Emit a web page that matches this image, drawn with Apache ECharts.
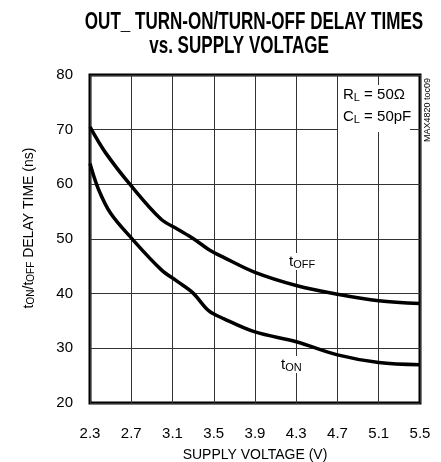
<!DOCTYPE html>
<html><head><meta charset="utf-8">
<script src="https://cdn.jsdelivr.net/npm/echarts@6/dist/echarts.min.js"></script>
<style>html,body{margin:0;padding:0;background:#fff}#c{width:441px;height:462px}</style>
</head><body><div id="c"></div>
<script>
const voltageOff = [2.3, 2.45, 2.7, 2.99, 3.15, 3.3, 3.45, 3.6, 3.9, 4.3, 4.7, 5.1, 5.5];
const tOff       = [70.5, 65.8, 59.7, 53.6, 51.8, 50.1, 48.1, 46.6, 43.9, 41.5, 39.9, 38.7, 38.2];
const voltageOn  = [2.3, 2.38, 2.5, 2.7, 2.99, 3.15, 3.3, 3.45, 3.6, 3.9, 4.3, 4.7, 5.1, 5.5];
const tOn        = [63.8, 59.2, 54.7, 50.2, 44.4, 42.2, 40.1, 36.9, 35.4, 33.0, 31.2, 28.8, 27.4, 27.0];
const xTicks = [2.3, 2.7, 3.1, 3.5, 3.9, 4.3, 4.7, 5.1, 5.5];
const yTicks = [20, 30, 40, 50, 60, 70, 80];

const F = '"Liberation Sans", Arial, sans-serif';
const chart = echarts.init(document.getElementById('c'));
const pair = (xs, ys) => xs.map((x, i) => [x, ys[i]]);
const sub = {n: {fontFamily: F, fontSize: 15, color: '#000'}, s: {fontFamily: F, fontSize: 11, color: '#000', padding: [6, 0, 0, 0]}};
chart.setOption({
  animation: false,
  grid: {left: 90, right: 21, top: 75, bottom: 59, containLabel: false, outerBoundsMode: 'none',
    show: true, borderColor: '#000', borderWidth: 3, backgroundColor: 'transparent'},
  xAxis: {
    type: 'value', min: xTicks[0], max: xTicks[xTicks.length - 1],
    axisLine: {show: false}, axisTick: {show: false, customValues: xTicks},
    axisLabel: {customValues: xTicks, color: '#000', fontFamily: F, fontSize: 15, margin: 23,
      formatter: v => v.toFixed(1)},
    splitLine: {show: true, lineStyle: {color: '#333', width: 1}},
    name: 'SUPPLY VOLTAGE (V)', nameLocation: 'middle', nameGap: 45, nameMoveOverlap: false,
    nameTextStyle: {color: '#000', fontFamily: F, fontSize: 14}
  },
  yAxis: {
    type: 'value', min: yTicks[0], max: yTicks[yTicks.length - 1], interval: 10,
    axisLine: {show: false}, axisTick: {show: false},
    axisLabel: {color: '#000', fontFamily: F, fontSize: 15, margin: 17},
    splitLine: {show: true, lineStyle: {color: '#333', width: 1}}
  },
  series: [
    {type: 'line', data: pair(voltageOff, tOff), smooth: 0.35, showSymbol: false, lineStyle: {color: '#000', width: 3.5}, z: 5},
    {type: 'line', data: pair(voltageOn, tOn), smooth: 0.35, showSymbol: false, lineStyle: {color: '#000', width: 3.5}, z: 5}
  ],
  graphic: [
    {type: 'text', x: 254, y: 10, scaleX: 0.71, style: {text: 'OUT_ TURN-ON/TURN-OFF DELAY TIMES', align: 'center', verticalAlign: 'top', fontFamily: F, fontWeight: 'bold', fontSize: 24, fill: '#000'}},
    {type: 'text', x: 239, y: 34, scaleX: 0.71, style: {text: 'vs. SUPPLY VOLTAGE', align: 'center', verticalAlign: 'top', fontFamily: F, fontWeight: 'bold', fontSize: 24, fill: '#000'}},
    {type: 'text', x: 29, y: 228, rotation: Math.PI / 2, style: {text: '{n|t}{s|ON}{n|/t}{s|OFF}{n| DELAY TIME (ns)}', align: 'center', verticalAlign: 'middle',
      rich: {n: {fontFamily: F, fontSize: 14, fill: '#000'}, s: {fontFamily: F, fontSize: 10, fill: '#000', padding: [5, 0, 0, 0]}}}},
    {type: 'rect', shape: {x: 338, y: 85, width: 72, height: 47}, style: {fill: '#fff'}, z: 1},
    {type: 'text', x: 343, y: 84, z: 2, style: {text: '{n|R}{s|L}{n| = 50Ω}\n{n|C}{s|L}{n| = 50pF}', lineHeight: 22,
      rich: {n: {fontFamily: F, fontSize: 15, lineHeight: 22}, s: {fontFamily: F, fontSize: 11, padding: [6, 0, 0, 0], lineHeight: 22}}}},
    {type: 'text', x: 428, y: 78, rotation: Math.PI / 2, style: {text: 'MAX4820 toc09', fontFamily: F, fontSize: 9, fill: '#000', align: 'right', verticalAlign: 'middle'}},
    {type: 'text', x: 289, y: 253, z: 2, style: {text: '{n|t}{s|OFF}', backgroundColor: '#fff', rich: sub}},
    {type: 'text', x: 281, y: 356, z: 2, style: {text: '{n|t}{s|ON}', backgroundColor: '#fff', rich: sub}}
  ]
});
</script></body></html>
